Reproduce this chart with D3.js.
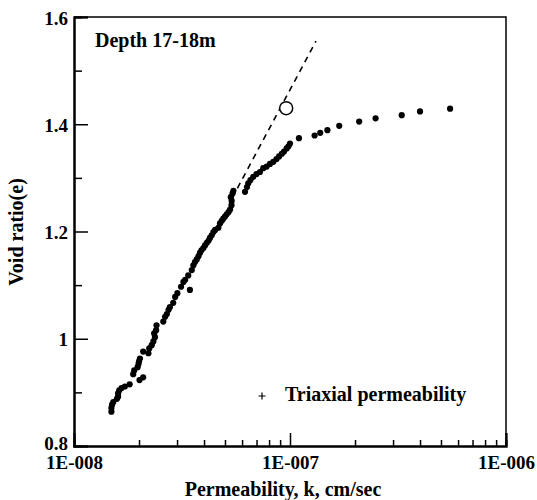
<!DOCTYPE html>
<html>
<head>
<meta charset="utf-8">
<script src="https://cdn.jsdelivr.net/npm/d3@7"></script>
<style>
    body { margin: 0; background: #fff; }
    #chart text { font-family: "Liberation Serif", "Times New Roman", serif; font-weight: bold; fill: #000; }
</style>
</head>
<body>
<div id="chart"></div>
<script>
// triaxial permeability test, depth 17-18m
var permeability = [
    1.49e-8, 1.49e-8, 1.50e-8, 1.52e-8, 1.58e-8, 1.60e-8, 1.60e-8, 1.62e-8, 1.66e-8, 1.72e-8,
    1.81e-8, 1.88e-8, 1.90e-8, 2.01e-8, 2.09e-8, 1.97e-8, 1.99e-8, 2.00e-8, 2.02e-8, 2.09e-8,
    2.21e-8, 2.23e-8, 2.29e-8, 2.33e-8, 2.37e-8, 2.35e-8, 2.40e-8, 2.41e-8, 2.59e-8, 2.64e-8,
    2.69e-8, 2.74e-8, 2.78e-8, 2.88e-8, 2.94e-8, 3.01e-8, 3.13e-8, 3.21e-8, 3.27e-8, 3.38e-8,
    3.44e-8, 3.51e-8, 3.57e-8, 3.63e-8, 3.70e-8, 3.77e-8, 3.83e-8, 3.89e-8, 3.97e-8, 4.04e-8,
    4.12e-8, 4.20e-8, 4.26e-8, 4.34e-8, 4.42e-8, 4.50e-8, 4.66e-8, 4.74e-8, 4.83e-8, 4.91e-8,
    5.00e-8, 5.09e-8, 5.19e-8, 5.28e-8, 5.36e-8, 5.37e-8, 5.32e-8, 5.42e-8, 5.47e-8,
    6.19e-8, 6.32e-8, 6.41e-8, 6.56e-8, 6.76e-8, 7.00e-8, 7.26e-8, 7.52e-8, 7.80e-8, 8.08e-8,
    8.37e-8, 8.66e-8, 8.90e-8, 9.16e-8, 9.38e-8, 9.65e-8, 9.84e-8, 1.00e-7, 1.10e-7, 1.30e-7,
    1.38e-7, 1.49e-7, 1.69e-7, 2.09e-7, 2.49e-7, 3.29e-7, 4.00e-7, 5.51e-7
];
var voidRatio = [
    0.864, 0.871, 0.877, 0.882, 0.888, 0.892, 0.898, 0.904, 0.908, 0.911,
    0.915, 0.934, 0.941, 0.923, 0.928, 0.947, 0.953, 0.958, 0.963, 0.976,
    0.973, 0.982, 0.988, 0.995, 1.003, 1.010, 1.016, 1.025, 1.032, 1.041,
    1.046, 1.054, 1.059, 1.067, 1.078, 1.085, 1.097, 1.106, 1.110, 1.118,
    1.091, 1.128, 1.137, 1.143, 1.148, 1.154, 1.160, 1.165, 1.169, 1.174,
    1.179, 1.183, 1.188, 1.193, 1.199, 1.203, 1.207, 1.215, 1.220, 1.224,
    1.228, 1.232, 1.236, 1.241, 1.249, 1.257, 1.264, 1.271, 1.276,
    1.274, 1.283, 1.290, 1.296, 1.302, 1.307, 1.311, 1.318, 1.321, 1.326,
    1.330, 1.335, 1.340, 1.345, 1.349, 1.355, 1.359, 1.364, 1.374, 1.379,
    1.384, 1.389, 1.397, 1.405, 1.411, 1.417, 1.424, 1.429
];

// extrapolated trend (dashed) and single open marker
var trendK = [5.4e-8, 1.32e-7];
var trendE = [1.2625, 1.5552];
var openK = [9.6e-8];
var openE = [1.43];

var yMajorTicks = [0.8, 1, 1.2, 1.4, 1.6];
var yMinorTicks = [0.9, 1.1, 1.3, 1.5];
var xMajorTicks = [1e-8, 1e-7, 1e-6];
var xTickLabels = ["1E-008", "1E-007", "1E-006"];
var xMinorTicks = [2e-8, 3e-8, 4e-8, 5e-8, 6e-8, 7e-8, 8e-8, 9e-8,
                   2e-7, 3e-7, 4e-7, 5e-7, 6e-7, 7e-7, 8e-7, 9e-7];

var width = 537, height = 500;
var margin = { top: 17, right: 31, bottom: 54, left: 74 };

var x = d3.scaleLog()
    .domain([1e-8, 1e-6])
    .range([margin.left, width - margin.right]);
var y = d3.scaleLinear()
    .domain([0.8, 1.6])
    .range([height - margin.bottom, margin.top]);

var svg = d3.select("#chart").append("svg")
    .attr("width", width)
    .attr("height", height);

// frame: top and right
svg.append("path")
    .attr("d", "M" + x(1e-8) + "," + y(1.6) + "H" + x(1e-6) + "V" + y(0.8))
    .attr("fill", "none")
    .attr("stroke", "#000")
    .attr("stroke-width", 1.5);

// Y axis
var yAxis = d3.axisLeft(y)
    .tickValues(yMajorTicks)
    .tickSize(-14)
    .tickPadding(6)
    .tickFormat(function(d) { return d3.format("")(+d.toFixed(1)); });
var gy = svg.append("g")
    .attr("transform", "translate(" + margin.left + ",0)")
    .call(yAxis);
svg.append("g")
    .attr("transform", "translate(" + margin.left + ",0)")
    .call(d3.axisLeft(y).tickValues(yMinorTicks).tickSize(-8).tickFormat(""));

// X axis
var xAxis = d3.axisBottom(x)
    .tickValues(xMajorTicks)
    .tickSize(-13)
    .tickPadding(10)
    .tickFormat(function(d, i) { return xTickLabels[i]; });
var gx = svg.append("g")
    .attr("transform", "translate(0," + (height - margin.bottom) + ")")
    .call(xAxis);
svg.append("g")
    .attr("transform", "translate(0," + (height - margin.bottom) + ")")
    .call(d3.axisBottom(x).tickValues(xMinorTicks).tickSize(-6).tickFormat(""));

svg.selectAll(".domain").attr("stroke-width", 2);
svg.selectAll(".tick line").attr("stroke-width", 1.5);
svg.selectAll(".tick text").style("font-size", "19px");
gy.selectAll(".tick text").attr("dy", function(d) { return d === 0.8 ? "0.2em" : "0.37em"; });

// axis titles
svg.append("text")
    .attr("x", 283)
    .attr("y", 496)
    .style("text-anchor", "middle")
    .style("font-size", "20px")
    .text("Permeability, k, cm/sec");

svg.append("text")
    .attr("transform", "rotate(-90)")
    .attr("x", -232)
    .attr("y", 23)
    .style("text-anchor", "middle")
    .style("font-size", "20px")
    .text("Void ratio(e)");

svg.append("text")
    .attr("x", 95)
    .attr("y", 47)
    .style("font-size", "20px")
    .text("Depth 17-18m");

// dashed trend line
var line = d3.line()
    .x(function(d) { return x(d[0]); })
    .y(function(d) { return y(d[1]); });
svg.append("path")
    .datum(d3.zip(trendK, trendE))
    .attr("d", line)
    .attr("fill", "none")
    .attr("stroke", "#000")
    .attr("stroke-width", 1.6)
    .attr("stroke-dasharray", "6,5");

// data points
svg.append("g").selectAll("circle")
    .data(d3.zip(permeability, voidRatio))
    .enter().append("circle")
    .attr("cx", function(d) { return x(d[0]); })
    .attr("cy", function(d) { return y(d[1]); })
    .attr("r", 3.1)
    .attr("fill", "#000");

svg.append("g").selectAll("circle")
    .data(d3.zip(openK, openE))
    .enter().append("circle")
    .attr("cx", function(d) { return x(d[0]); })
    .attr("cy", function(d) { return y(d[1]); })
    .attr("r", 6.5)
    .attr("fill", "#fff")
    .attr("stroke", "#000")
    .attr("stroke-width", 1.5);

// legend
var legend = svg.append("g").attr("transform", "translate(262,396)");
legend.append("path")
    .attr("d", "M-3.5,0H3.5M0,-3.5V3.5")
    .attr("stroke", "#000")
    .attr("stroke-width", 1.2);
legend.append("text")
    .attr("x", 23)
    .attr("y", 5)
    .style("font-size", "20px")
    .text("Triaxial permeability");
</script>
</body>
</html>
